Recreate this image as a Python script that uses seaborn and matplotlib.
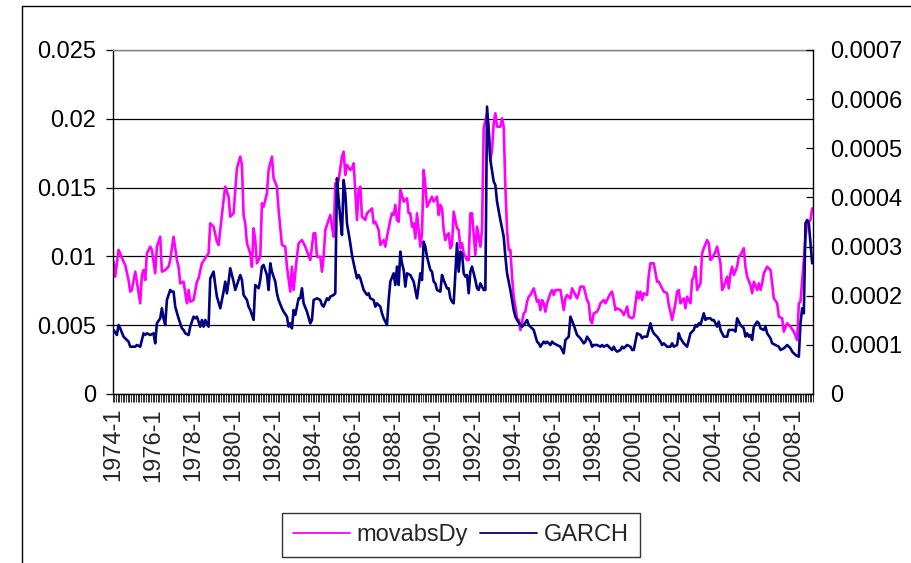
import numpy as np
import pandas as pd
import matplotlib
matplotlib.use("Agg")
import matplotlib.pyplot as plt
from matplotlib.lines import Line2D
from matplotlib.ticker import FixedLocator, FuncFormatter, NullFormatter
import seaborn as sns

# ---------------- data (month offset from 1974-1, value) ----------------
start_year = 1974
n_months = 420
label_every = 24

mov_month = [0, 1, 3, 4, 6, 7, 9, 10, 11, 13, 14, 16, 17, 18, 19, 20, 22, 23, 25, 26, 28, 29, 31, 33, 34,
             36, 38, 39, 40, 42, 44, 45, 46, 48, 50, 51, 53, 55, 57, 58, 60, 62, 63, 66, 67, 69, 70, 72,
             74, 76, 77, 78, 79, 80, 82, 83, 84, 85, 86, 88, 89, 90, 92, 93, 95, 96, 98, 99, 101, 103,
             104, 106, 107, 108, 110, 111, 113, 115, 118, 120, 121, 122, 124, 125, 126, 127, 128, 130,
             131, 132, 133, 134, 135, 137, 138, 139, 140, 142, 143, 144, 146, 147, 148, 149, 151, 152,
             154, 155, 156, 157, 159, 160, 162, 163, 164, 166, 167, 168, 169, 170, 171, 172, 173, 174,
             176, 177, 178, 179, 180, 181, 182, 184, 185, 186, 187, 188, 189, 191, 192, 194, 195, 196,
             197, 198, 199, 200, 201, 202, 203, 204, 206, 207, 208, 209, 210, 212, 213, 214, 215, 217,
             218, 219, 220, 221, 222, 224, 225, 226, 227, 228, 229, 230, 232, 233, 234, 235, 236, 237,
             238, 239, 240, 241, 242, 243, 244, 246, 247, 248, 249, 250, 252, 254, 255, 256, 257, 258,
             259, 260, 262, 263, 264, 265, 268, 269, 270, 271, 272, 274, 275, 276, 278, 279, 280, 282,
             284, 285, 286, 287, 288, 290, 291, 292, 294, 295, 296, 298, 299, 300, 301, 302, 304, 305,
             306, 307, 308, 309, 311, 312, 314, 315, 316, 317, 318, 320, 321, 322, 324, 326, 327, 328,
             330, 332, 333, 334, 335, 337, 338, 339, 340, 342, 343, 344, 346, 347, 348, 349, 350, 352,
             353, 354, 356, 357, 358, 359, 360, 361, 362, 364, 365, 366, 368, 369, 370, 371, 372, 374,
             375, 376, 378, 379, 380, 382, 383, 384, 386, 387, 388, 389, 390, 392, 394, 395, 396, 398,
             399, 401, 402, 404, 406, 408, 410, 411, 412, 414, 415, 416, 418, 419]
mov_value = [0.00962, 0.00853, 0.01047, 0.01022, 0.00962, 0.00938, 0.00828, 0.00744, 0.00756, 0.00889,
             0.00816, 0.00659, 0.00865, 0.00901, 0.00828, 0.01022, 0.01071, 0.01047, 0.00877, 0.01071,
             0.01143, 0.00889, 0.00901, 0.00925, 0.00974, 0.01143, 0.00974, 0.00925, 0.00804, 0.00816,
             0.00659, 0.00756, 0.00671, 0.00683, 0.00816, 0.00841, 0.00950, 0.00986, 0.01022, 0.01240,
             0.01216, 0.01107, 0.01083, 0.01410, 0.01507, 0.01434, 0.01289, 0.01313, 0.01640, 0.01725,
             0.01664, 0.01301, 0.01240, 0.01095, 0.01022, 0.00925, 0.01204, 0.01119, 0.00950, 0.00998,
             0.01386, 0.01361, 0.01458, 0.01628, 0.01725, 0.01567, 0.01507, 0.01337, 0.01083, 0.01071,
             0.00925, 0.00744, 0.00925, 0.00756, 0.00998, 0.01095, 0.01119, 0.01071, 0.00974, 0.01168,
             0.01168, 0.00998, 0.00998, 0.00889, 0.00998, 0.01192, 0.01228, 0.01301, 0.01216, 0.01143,
             0.01531, 0.01519, 0.01555, 0.01725, 0.01761, 0.01592, 0.01664, 0.01628, 0.01640, 0.01676,
             0.01265, 0.01483, 0.01507, 0.01289, 0.01265, 0.01313, 0.01337, 0.01349, 0.01240, 0.01252,
             0.01192, 0.01083, 0.01119, 0.01071, 0.01143, 0.01265, 0.01313, 0.01301, 0.01374, 0.01265,
             0.01252, 0.01483, 0.01446, 0.01398, 0.01422, 0.01313, 0.01313, 0.01216, 0.01240, 0.01131,
             0.01313, 0.01071, 0.01168, 0.01628, 0.01519, 0.01361, 0.01386, 0.01434, 0.01398, 0.01434,
             0.01301, 0.01374, 0.01349, 0.01192, 0.01119, 0.01155, 0.01168, 0.01059, 0.01083, 0.01325,
             0.01204, 0.01192, 0.01059, 0.01095, 0.01022, 0.00974, 0.00974, 0.01313, 0.01313, 0.01010,
             0.01216, 0.01143, 0.01071, 0.01192, 0.01931, 0.02040, 0.01943, 0.01701, 0.01773, 0.01967,
             0.02040, 0.01943, 0.01943, 0.02003, 0.01943, 0.01507, 0.01192, 0.01047, 0.01047, 0.00853,
             0.00707, 0.00635, 0.00550, 0.00538, 0.00465, 0.00586, 0.00598, 0.00671, 0.00707, 0.00719,
             0.00768, 0.00671, 0.00683, 0.00610, 0.00683, 0.00659, 0.00598, 0.00659, 0.00732, 0.00756,
             0.00719, 0.00756, 0.00756, 0.00683, 0.00610, 0.00695, 0.00719, 0.00695, 0.00768, 0.00744,
             0.00695, 0.00732, 0.00780, 0.00780, 0.00683, 0.00659, 0.00538, 0.00514, 0.00586, 0.00598,
             0.00623, 0.00659, 0.00683, 0.00659, 0.00683, 0.00732, 0.00744, 0.00683, 0.00610, 0.00623,
             0.00610, 0.00598, 0.00574, 0.00598, 0.00635, 0.00562, 0.00550, 0.00562, 0.00744, 0.00695,
             0.00744, 0.00683, 0.00732, 0.00719, 0.00865, 0.00950, 0.00950, 0.00816, 0.00816, 0.00792,
             0.00744, 0.00732, 0.00647, 0.00598, 0.00538, 0.00659, 0.00744, 0.00756, 0.00659, 0.00695,
             0.00623, 0.00707, 0.00659, 0.00828, 0.00853, 0.00925, 0.00756, 0.00804, 0.01022, 0.01059,
             0.01119, 0.01095, 0.00974, 0.00986, 0.01010, 0.01034, 0.01071, 0.00950, 0.00756, 0.00780,
             0.00853, 0.00768, 0.00877, 0.00925, 0.00865, 0.00925, 0.00998, 0.01010, 0.01059, 0.00925,
             0.00853, 0.00792, 0.00732, 0.00816, 0.00756, 0.00804, 0.00756, 0.00804, 0.00877, 0.00925,
             0.00901, 0.00804, 0.00695, 0.00659, 0.00562, 0.00550, 0.00453, 0.00514, 0.00489, 0.00453,
             0.00392, 0.00659, 0.00671, 0.00974, 0.01143, 0.01240, 0.01265, 0.01349]

garch_month = [0, 2, 3, 4, 6, 8, 9, 10, 13, 14, 16, 18, 19, 20, 22, 24, 25, 26, 28, 29, 30, 31, 32, 34, 35,
               36, 37, 39, 41, 42, 43, 45, 46, 48, 49, 50, 52, 53, 54, 55, 57, 58, 60, 61, 62, 64, 66, 67,
               68, 69, 70, 72, 73, 74, 76, 77, 78, 80, 81, 82, 84, 85, 87, 88, 89, 90, 92, 93, 94, 95, 97,
               98, 99, 101, 102, 104, 105, 106, 107, 108, 109, 111, 112, 113, 114, 116, 118, 119, 120, 122,
               124, 125, 126, 128, 129, 130, 132, 133, 134, 135, 136, 137, 138, 139, 140, 142, 143, 144,
               146, 147, 148, 150, 152, 153, 154, 156, 157, 158, 160, 161, 162, 164, 165, 166, 168, 169,
               170, 171, 172, 173, 174, 175, 176, 178, 180, 181, 182, 184, 185, 186, 187, 188, 190, 191,
               192, 193, 194, 196, 197, 198, 200, 201, 202, 203, 204, 206, 207, 208, 209, 210, 211, 212,
               213, 214, 215, 217, 218, 219, 220, 222, 223, 224, 225, 226, 228, 229, 230, 232, 234, 235,
               236, 238, 239, 240, 241, 242, 244, 245, 246, 248, 249, 250, 252, 254, 255, 256, 258, 259,
               260, 262, 263, 264, 266, 268, 269, 270, 271, 273, 274, 276, 277, 278, 280, 282, 283, 284,
               286, 287, 288, 290, 292, 293, 294, 296, 298, 299, 300, 301, 302, 304, 305, 306, 308, 310,
               311, 312, 314, 316, 317, 318, 320, 322, 323, 324, 326, 328, 329, 330, 332, 334, 335, 336,
               338, 339, 340, 342, 344, 345, 346, 348, 349, 350, 351, 352, 354, 355, 356, 358, 359, 360,
               362, 363, 364, 366, 368, 369, 370, 372, 373, 374, 375, 376, 378, 379, 380, 381, 382, 383,
               384, 386, 387, 388, 390, 391, 392, 394, 395, 397, 399, 400, 402, 404, 406, 407, 409, 411,
               412, 413, 414, 415, 416, 417, 418, 419]
garch_value = [1.303e-4, 1.201e-4, 1.404e-4, 1.336e-4, 1.167e-4, 1.099e-4, 1.065e-4, 0.963e-4, 0.963e-4,
               0.997e-4, 0.963e-4, 1.235e-4, 1.201e-4, 1.235e-4, 1.201e-4, 1.235e-4, 1.031e-4, 1.438e-4,
               1.540e-4, 1.744e-4, 1.540e-4, 1.404e-4, 1.913e-4, 2.117e-4, 2.083e-4, 2.083e-4, 1.777e-4,
               1.540e-4, 1.336e-4, 1.303e-4, 1.235e-4, 1.201e-4, 1.370e-4, 1.574e-4, 1.540e-4, 1.574e-4,
               1.370e-4, 1.506e-4, 1.370e-4, 1.506e-4, 1.370e-4, 2.350e-4, 2.490e-4, 2.218e-4, 1.981e-4,
               1.744e-4, 2.083e-4, 2.286e-4, 2.049e-4, 2.286e-4, 2.558e-4, 2.286e-4, 2.117e-4, 2.218e-4,
               2.422e-4, 2.320e-4, 2.015e-4, 1.913e-4, 1.777e-4, 1.710e-4, 1.506e-4, 2.218e-4, 2.151e-4,
               2.320e-4, 2.592e-4, 2.626e-4, 2.422e-4, 2.117e-4, 2.659e-4, 2.490e-4, 2.286e-4, 2.049e-4,
               1.913e-4, 1.744e-4, 1.676e-4, 1.574e-4, 1.370e-4, 1.438e-4, 1.336e-4, 1.710e-4, 1.608e-4,
               1.947e-4, 1.947e-4, 2.151e-4, 1.845e-4, 1.676e-4, 1.438e-4, 1.506e-4, 1.913e-4, 1.947e-4,
               1.913e-4, 1.811e-4, 1.777e-4, 1.947e-4, 1.913e-4, 1.981e-4, 2.015e-4, 2.049e-4, 4.389e-4,
               3.948e-4, 3.575e-4, 3.236e-4, 4.355e-4, 4.084e-4, 3.474e-4, 3.066e-4, 2.829e-4, 2.659e-4,
               2.354e-4, 2.422e-4, 2.354e-4, 2.117e-4, 2.015e-4, 2.049e-4, 1.947e-4, 1.913e-4, 1.777e-4,
               1.845e-4, 1.777e-4, 1.642e-4, 1.540e-4, 1.404e-4, 1.913e-4, 2.286e-4, 2.456e-4, 2.218e-4,
               2.592e-4, 2.218e-4, 2.897e-4, 2.659e-4, 2.524e-4, 2.185e-4, 2.456e-4, 2.420e-4, 2.286e-4,
               2.117e-4, 1.947e-4, 2.456e-4, 2.320e-4, 3.100e-4, 2.999e-4, 2.795e-4, 2.524e-4, 2.490e-4,
               2.286e-4, 2.252e-4, 2.117e-4, 2.083e-4, 2.422e-4, 2.320e-4, 2.151e-4, 2.151e-4, 1.947e-4,
               1.879e-4, 1.845e-4, 3.066e-4, 2.490e-4, 2.897e-4, 2.863e-4, 2.456e-4, 2.388e-4, 2.422e-4,
               2.049e-4, 2.490e-4, 2.592e-4, 2.320e-4, 2.151e-4, 2.117e-4, 2.252e-4, 2.117e-4, 2.117e-4,
               5.848e-4, 5.305e-4, 4.763e-4, 4.322e-4, 4.254e-4, 3.914e-4, 3.541e-4, 3.202e-4, 2.795e-4,
               2.456e-4, 2.117e-4, 1.913e-4, 1.710e-4, 1.574e-4, 1.506e-4, 1.404e-4, 1.370e-4, 1.404e-4,
               1.506e-4, 1.404e-4, 1.370e-4, 1.303e-4, 1.065e-4, 1.031e-4, 0.963e-4, 1.065e-4, 1.031e-4,
               1.065e-4, 0.997e-4, 1.065e-4, 1.031e-4, 0.997e-4, 0.963e-4, 0.896e-4, 0.828e-4, 1.099e-4,
               1.167e-4, 1.574e-4, 1.404e-4, 1.303e-4, 1.201e-4, 1.133e-4, 1.031e-4, 1.065e-4, 1.167e-4,
               1.065e-4, 0.963e-4, 0.997e-4, 0.997e-4, 0.963e-4, 0.997e-4, 0.963e-4, 0.997e-4, 0.929e-4,
               0.896e-4, 0.963e-4, 0.896e-4, 0.862e-4, 0.896e-4, 0.963e-4, 0.929e-4, 0.997e-4, 0.963e-4,
               0.896e-4, 0.896e-4, 1.235e-4, 1.201e-4, 1.133e-4, 1.167e-4, 1.167e-4, 1.438e-4, 1.303e-4,
               1.235e-4, 1.167e-4, 1.065e-4, 0.997e-4, 1.031e-4, 0.963e-4, 0.963e-4, 1.031e-4, 0.963e-4,
               0.997e-4, 1.235e-4, 1.133e-4, 1.031e-4, 0.963e-4, 1.099e-4, 1.235e-4, 1.303e-4, 1.404e-4,
               1.370e-4, 1.438e-4, 1.404e-4, 1.642e-4, 1.506e-4, 1.540e-4, 1.540e-4, 1.500e-4, 1.506e-4,
               1.370e-4, 1.472e-4, 1.303e-4, 1.167e-4, 1.167e-4, 1.303e-4, 1.303e-4, 1.303e-4, 1.269e-4,
               1.540e-4, 1.472e-4, 1.404e-4, 1.336e-4, 1.167e-4, 1.235e-4, 1.167e-4, 1.201e-4, 1.099e-4,
               1.370e-4, 1.472e-4, 1.438e-4, 1.336e-4, 1.303e-4, 1.370e-4, 1.235e-4, 1.133e-4, 1.031e-4,
               0.997e-4, 0.963e-4, 0.896e-4, 0.929e-4, 0.997e-4, 0.929e-4, 0.862e-4, 0.794e-4, 0.760e-4,
               1.438e-4, 1.744e-4, 1.642e-4, 3.474e-4, 3.541e-4, 3.474e-4, 3.066e-4, 2.659e-4]

left_ticks = [0, 0.005, 0.01, 0.015, 0.02, 0.025]
right_ticks = [0, 0.0001, 0.0002, 0.0003, 0.0004, 0.0005, 0.0006, 0.0007]
series_names = ["movabsDy", "GARCH"]
series_colors = ["#FF00FF", "#000080"]

# ---------------- build tables ----------------
month_labels = [f"{start_year + i // 12}-{i % 12 + 1}" for i in range(n_months)]
df_mov = pd.DataFrame({"month": mov_month, "value": mov_value})
df_garch = pd.DataFrame({"month": garch_month, "value": garch_value})

sns.set_style("white")
plt.rcParams['font.family'] = ['Liberation Sans', 'DejaVu Sans']
FS = 17

W, H = 911, 563
fig = plt.figure(figsize=(W / 100, H / 100), dpi=100)
x0, x1, ytop, ybot = 112.7, 813.0, 50.0, 394.0
ax = fig.add_axes([x0 / W, 1 - ybot / H, (x1 - x0) / W, (ybot - ytop) / H])
ax.set_facecolor("white")

sns.lineplot(data=df_mov, x="month", y="value", ax=ax, color=series_colors[0],
             linewidth=1.9, legend=False, sort=True)
ax2 = ax.twinx()
sns.lineplot(data=df_garch, x="month", y="value", ax=ax2, color=series_colors[1],
             linewidth=1.9, legend=False, sort=True)

ax.set_xlim(-0.5, n_months - 0.5)
ax.set_ylim(left_ticks[0], left_ticks[-1])
ax2.set_ylim(right_ticks[0], right_ticks[-1])
for a in (ax, ax2):
    a.set_xlabel("")
    a.set_ylabel("")

fmt = FuncFormatter(lambda v, p: f"{v:g}")
ax.yaxis.set_major_locator(FixedLocator(left_ticks))
ax.yaxis.set_major_formatter(fmt)
ax2.yaxis.set_major_locator(FixedLocator(right_ticks))
ax2.yaxis.set_major_formatter(fmt)

label_pos = list(range(0, n_months, label_every))
ax.xaxis.set_major_locator(FixedLocator(label_pos))
ax.set_xticklabels([month_labels[i] for i in label_pos], rotation=90, fontsize=FS)
ax.xaxis.set_minor_locator(FixedLocator(np.arange(-0.5, n_months, 1.0)))
ax.xaxis.set_minor_formatter(NullFormatter())

ax.tick_params(axis="x", which="major", length=0, pad=10, labelsize=FS, bottom=True)
ax.tick_params(axis="x", which="minor", length=6, width=0.75, direction="out", color="#333333",
               bottom=True)
ax.tick_params(axis="y", which="major", length=5, width=0.9, direction="out", pad=7,
               labelsize=FS, left=True, colors="black")
ax2.tick_params(axis="y", which="major", length=5, width=0.9, direction="in", pad=12,
                labelsize=FS, right=True, colors="black")

ax.yaxis.grid(True, color="black", linewidth=0.9)
ax.xaxis.grid(False)
ax2.grid(False)

for s in ("left", "bottom"):
    ax.spines[s].set_color("black")
    ax.spines[s].set_linewidth(1.0)
ax.spines["top"].set_color("#808080")
ax.spines["top"].set_linewidth(1.0)
ax.spines["right"].set_visible(False)
for s in ("left", "bottom", "top"):
    ax2.spines[s].set_visible(False)
ax2.spines["right"].set_color("black")
ax2.spines["right"].set_linewidth(1.0)

handles = [Line2D([], [], color=c, lw=1.3) for c in series_colors]
leg = fig.legend(handles, series_names, loc="center", bbox_to_anchor=(461 / W, 1 - 535 / H),
                 ncol=2, fontsize=FS, frameon=True, fancybox=False, shadow=False,
                 handlelength=2.4, handletextpad=0.3, columnspacing=0.5, borderpad=0.45,
                 borderaxespad=0)
leg.get_frame().set_edgecolor("black")
leg.get_frame().set_linewidth(1.0)

# outer chart border (top and left visible)
fig.add_artist(Line2D([22 / W, 1.0], [1 - 6 / H, 1 - 6 / H], transform=fig.transFigure,
                      color="black", lw=1.0))
fig.add_artist(Line2D([22 / W, 22 / W], [0.0, 1 - 6 / H], transform=fig.transFigure,
                      color="black", lw=1.0))

fig.savefig("out.png", dpi=100, facecolor="white")
